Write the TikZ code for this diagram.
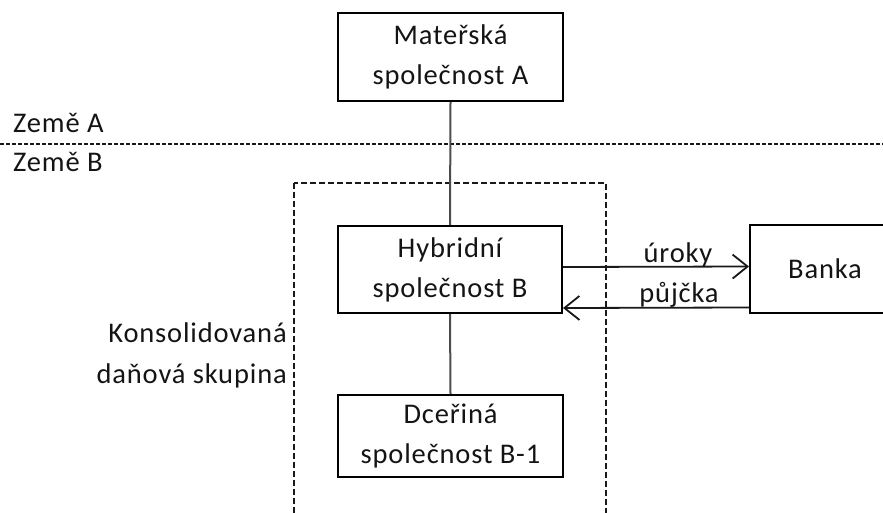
\documentclass[tikz,border=0pt]{standalone}
\usepackage{fontspec}
\setmainfont{Carlito}[LetterSpace=3]
\usetikzlibrary{arrows.meta}

\begin{document}
\begin{tikzpicture}[x=1pt,y=-1pt,
  txt/.style={font=\fontsize{28.5}{40}\selectfont, inner sep=0pt, text=black!92},
  entity/.style={txt, draw=black, line width=2pt, align=center,
    minimum width=225pt, minimum height=88pt},
  conn/.style={draw=black!70, line width=2pt},
  flow/.style={draw=black!90, line width=1.8pt,
    -{Straight Barb[length=15pt,width=24pt,line width=1.8pt]}},
  border/.style={draw=black!90, line width=1.4pt, dash pattern=on 3.5pt off 2.5pt},
  groupframe/.style={draw=black!90, line width=1.4pt, dash pattern=on 6pt off 3pt}]
\useasboundingbox (0,0) rectangle (883,513);
\clip (0,0) rectangle (883,513);

% country border
\coordinate (bl) at (0,144);
\coordinate (br) at (883,144);
\draw[border] (bl) -- (br);
\node[txt, anchor=base west] (zemeA) at (13,133) {Země A};
\node[txt, anchor=base west] (zemeB) at (13,172) {Země B};

% consolidated tax group
\coordinate (g1) at (294,183);
\coordinate (g2) at (606,530);
\draw[groupframe] (g1) rectangle (g2);
\node[txt, anchor=base east] (grp1) at (287,342) {Konsolidovaná};
\node[txt, anchor=base east] (grp2) at (287,383) {daňová skupina};

% entities
\node[entity] (parent) at (450.5,57) {Mateřská\\společnost A};
\node[entity, minimum width=224pt, minimum height=87pt] (hybrid) at (450,269.5) {Hybridní\\společnost B};
\node[entity, minimum height=82pt] (sub) at (450.5,436) {Dceřiná\\společnost B-1};
\node[entity, minimum width=150pt] (bank) at (825,269) {Banka};

% ownership
\draw[conn] (parent.south) -- (hybrid.north);
\draw[conn] (hybrid.south) -- (sub.north);

% interest and loan
\draw[flow] ([yshift=2.5pt]hybrid.east) -- ([yshift=2.5pt]bank.west);
\draw[flow] ([yshift=-38.5pt]bank.west) -- ([yshift=-38.5pt]hybrid.east);
\node[txt, anchor=base] (interest) at (678,262) {úroky};
\node[txt, anchor=base] (loan) at (679,302) {půjčka};
\end{tikzpicture}
\end{document}
